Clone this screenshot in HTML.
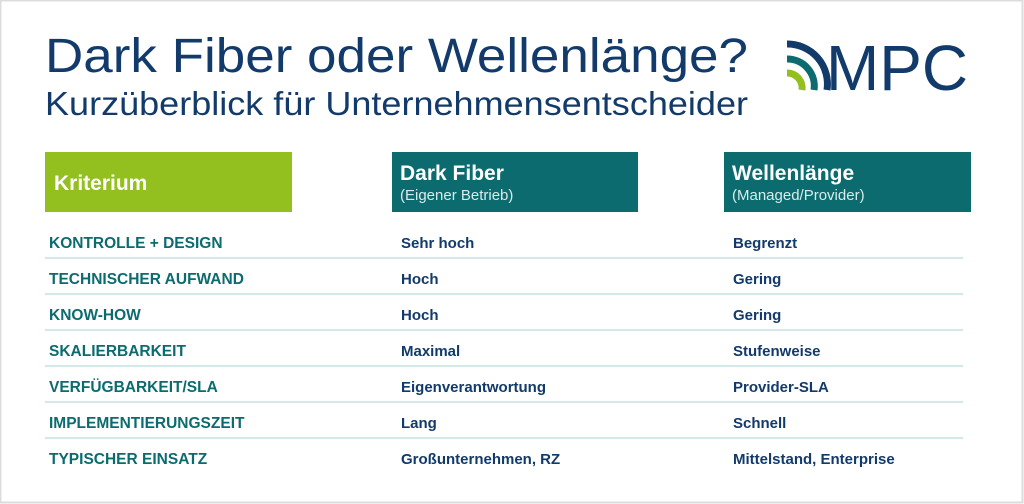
<!DOCTYPE html>
<html><head><meta charset="utf-8"><style>
html,body{margin:0;padding:0;background:#fff}
svg{display:block}
.t{font-family:"Liberation Sans",sans-serif}
.lab{font-family:"Liberation Sans",sans-serif;font-weight:bold;font-size:15.5px;fill:#0b6b6e}
.val{font-family:"Liberation Sans",sans-serif;font-weight:bold;font-size:15px;fill:#123a6a}
</style></head><body>
<svg width="1024" height="504" viewBox="0 0 1024 504" xmlns="http://www.w3.org/2000/svg">
<rect x="0" y="0" width="1024" height="504" fill="#fff"/>
<rect x="0.5" y="0.5" width="1022" height="502" fill="none" stroke="#dcdcdc" stroke-width="2"/>
<text class="t" x="45" y="72" font-size="48" fill="#123a6a" textLength="703" lengthAdjust="spacingAndGlyphs">Dark Fiber oder Wellenlänge?</text>
<text class="t" x="45" y="115" font-size="33" fill="#123a6a" textLength="703" lengthAdjust="spacingAndGlyphs">Kurzüberblick für Unternehmensentscheider</text>
<!-- logo -->
<g fill="none" stroke-linecap="butt">
<path d="M787 44 A40 40 0 0 1 827 90" stroke="#123a6a" stroke-width="7"/>
<path d="M787 59 A27 27 0 0 1 814 90" stroke="#0b6b6e" stroke-width="7"/>
<path d="M787 73 A15 15 0 0 1 802 90" stroke="#93c01f" stroke-width="7"/>
</g>
<text class="t" x="826" y="90" font-size="64" fill="#123a6a" textLength="142" lengthAdjust="spacingAndGlyphs">MPC</text>
<!-- headers -->
<rect x="45" y="152" width="247" height="60" fill="#93c01f"/>
<text class="t" x="54" y="190" font-size="21" font-weight="bold" fill="#fff">Kriterium</text>
<rect x="392" y="152" width="246" height="60" fill="#0b6b6e"/>
<text class="t" x="400" y="180" font-size="21" font-weight="bold" fill="#fff">Dark Fiber</text>
<text class="t" x="400" y="200" font-size="15" fill="#d9ecec">(Eigener Betrieb)</text>
<rect x="724" y="152" width="247" height="60" fill="#0b6b6e"/>
<text class="t" x="732" y="180" font-size="21" font-weight="bold" fill="#fff">Wellenlänge</text>
<text class="t" x="732" y="200" font-size="15" fill="#d9ecec">(Managed/Provider)</text>
<!-- lines -->
<g stroke="#c5dfe2" stroke-width="1.5">
<line x1="45" y1="258" x2="963" y2="258"/>
<line x1="45" y1="294" x2="963" y2="294"/>
<line x1="45" y1="330" x2="963" y2="330"/>
<line x1="45" y1="366" x2="963" y2="366"/>
<line x1="45" y1="402" x2="963" y2="402"/>
<line x1="45" y1="438" x2="963" y2="438"/>
</g>
<g class="lab">
<text x="49" y="248">KONTROLLE + DESIGN</text>
<text x="49" y="284">TECHNISCHER AUFWAND</text>
<text x="49" y="320">KNOW-HOW</text>
<text x="49" y="356">SKALIERBARKEIT</text>
<text x="49" y="392">VERFÜGBARKEIT/SLA</text>
<text x="49" y="428">IMPLEMENTIERUNGSZEIT</text>
<text x="49" y="464">TYPISCHER EINSATZ</text>
</g>
<g class="val">
<text x="401" y="248">Sehr hoch</text>
<text x="401" y="284">Hoch</text>
<text x="401" y="320">Hoch</text>
<text x="401" y="356">Maximal</text>
<text x="401" y="392">Eigenverantwortung</text>
<text x="401" y="428">Lang</text>
<text x="401" y="464">Großunternehmen, RZ</text>
<text x="733" y="248">Begrenzt</text>
<text x="733" y="284">Gering</text>
<text x="733" y="320">Gering</text>
<text x="733" y="356">Stufenweise</text>
<text x="733" y="392">Provider-SLA</text>
<text x="733" y="428">Schnell</text>
<text x="733" y="464">Mittelstand, Enterprise</text>
</g>
</svg>
</body></html>
